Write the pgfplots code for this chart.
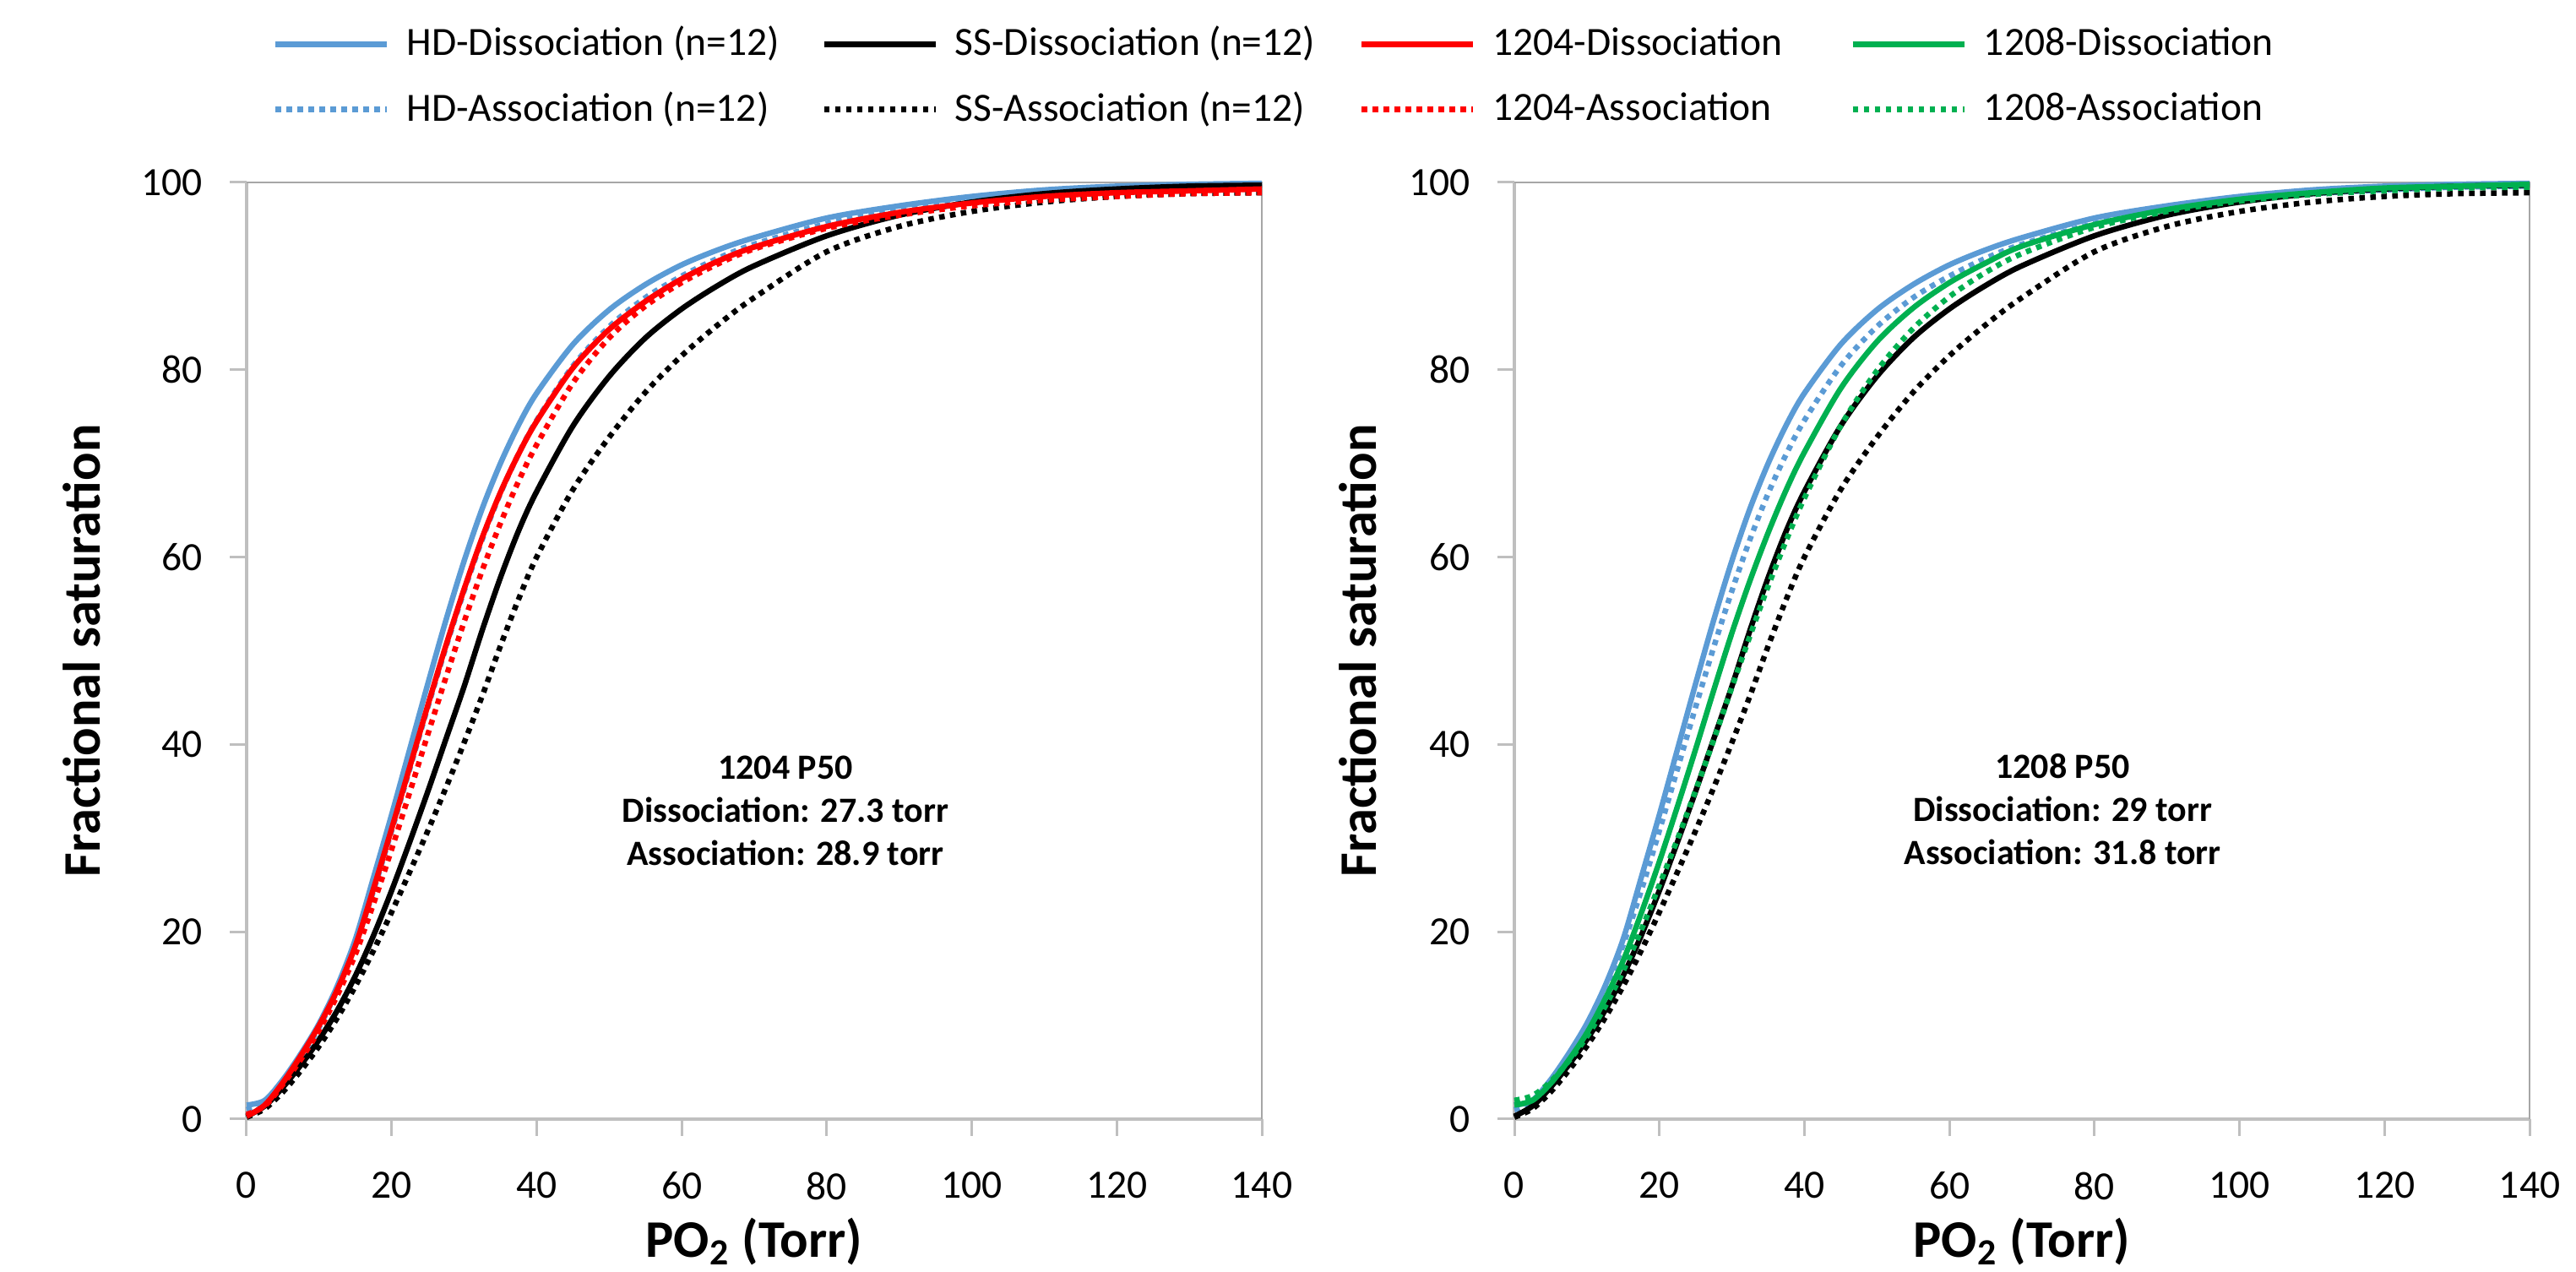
\documentclass[border=0pt]{standalone}
\usepackage{pgfplots}
\usepackage{pgfplotstable}
\pgfplotsset{compat=1.18}
\usepackage{fontspec}
\setmainfont{Carlito}
\definecolor{hdblue}{HTML}{5B9BD5}
\definecolor{rred}{HTML}{FF0000}
\definecolor{ggreen}{HTML}{00B050}
\definecolor{axgray}{HTML}{BFBFBF}
\definecolor{boxgray}{HTML}{A6A6A6}

% HD and SS reference curves (n=12)
\pgfplotstableread{
x    hdd   hda   ssd   ssa
0    1.5   1.0   0.3   0.2
2.5  2.0   1.8   1.4   1.1
5    4.2   4.0   3.4   2.9
7.5  7.0   6.7   5.8   5.2
10   10.2  9.8   8.5   7.8
12.5 14.2  13.8  11.6  10.8
15   19.2  18.6  15.3  14.2
17.5 25.8  24.4  19.6  18.0
20   32.5  30.8  24.4  22.1
22.5 39.5  37.4  29.6  26.4
25   46.5  44.0  35.0  30.8
27.5 53.3  50.4  40.6  35.4
30   59.6  56.4  46.2  40.2
32.5 65.2  61.9  52.2  45.2
35   70.0  66.8  57.8  50.5
37.5 74.1  71.0  62.8  55.5
40   77.5  74.6  67.0  60.0
45   82.7  80.4  74.0  67.2
50   86.4  84.6  79.3  72.8
55   89.1  87.7  83.4  77.6
60   91.2  90.0  86.5  81.5
65   92.8  91.9  89.0  84.8
70   94.1  93.4  91.1  87.7
80   96.2  95.6  94.3  92.6
90   97.5  97.1  96.5  95.3
100  98.5  98.1  97.9  96.9
110  99.2  98.8  98.8  97.9
120  99.6  99.2  99.3  98.5
130  99.8  99.5  99.6  98.8
140  99.9  99.6  99.7  98.9
}\refdata

% 1204
\pgfplotstableread{
x    d     a
0    0.3   0.5
2.5  1.5   1.4
5    3.9   3.7
7.5  6.8   6.4
10   10.0  9.5
12.5 13.8  13.2
15   18.5  17.6
17.5 24.6  23.0
20   31.0  28.8
22.5 37.6  34.9
25   44.2  41.1
27.5 50.6  47.2
30   56.6  53.1
32.5 62.1  58.6
35   66.9  63.6
37.5 71.0  68.1
40   74.5  72.0
45   80.2  78.6
50   84.3  83.4
55   87.3  86.8
60   89.7  89.3
65   91.6  91.3
70   93.1  92.9
80   95.3  95.1
90   96.8  96.5
100  97.8  97.5
110  98.5  98.1
120  98.9  98.5
130  99.1  98.8
140  99.3  98.9
}\dataA

% 1208
\pgfplotstableread{
x    d     a
0    1.5   2.0
2.5  2.0   2.5
5    3.8   4.0
7.5  6.3   6.2
10   9.2   8.8
12.5 12.8  12.0
15   16.9  15.8
17.5 22.0  20.2
20   27.5  25.0
22.5 33.4  29.9
25   39.5  35.1
27.5 45.8  40.5
30   51.9  46.1
32.5 57.5  51.6
35   62.6  56.9
37.5 67.2  61.8
40   71.2  66.3
45   78.0  74.0
50   83.0  79.9
55   86.6  84.4
60   89.3  87.8
65   91.4  90.4
70   93.2  92.4
80   95.5  95.2
90   97.1  96.9
100  98.2  98.0
110  98.9  98.7
120  99.4  99.1
130  99.6  99.4
140  99.8  99.5
}\dataB

\pgfplotsset{
  sol/.style={line width=1.3pt, solid},
  dot/.style={line width=1.3pt, dash pattern=on 1.3pt off 1.3pt},
  panel/.style={
    scale only axis, width=240.4pt, height=221.8pt,
    xmin=0, xmax=140, ymin=0, ymax=100,
    xtick={0,20,...,140}, ytick={0,20,...,100},
    axis x line*=bottom, axis y line*=left,
    axis line style={draw=axgray, line width=0.8pt, -},
    tick align=outside, major tick length=4pt,
    tick style={draw=axgray, line width=0.6pt},
    tick label style={font=\fontsize{9.5}{11}\selectfont},
    /pgf/number format/assume math mode=true,
    xticklabel style={yshift=-5pt},
    yticklabel style={xshift=-3pt},
    xlabel={\textbf{PO\textsubscript{2} (Torr)}},
    ylabel={\textbf{Fractional saturation}},
    label style={font=\fontsize{12.5}{14}\selectfont},
    xlabel style={at={([yshift=-32.8pt]axis description cs:0.5,0)}, anchor=base},
    clip=false,
  },
}

\begin{document}
\begin{tikzpicture}
\begin{axis}[panel,
  ylabel style={at={([xshift=-39pt]axis description cs:0,0.5)}, anchor=center},
  legend columns=4,
  legend cell align=left,
  legend image code/.code={\draw[#1] (0pt,0pt) -- (26.4pt,0pt); \path (30.4pt,0pt);},
  legend style={draw=none, fill=none, inner sep=0pt, row sep=7pt, column sep=0pt,
    nodes={inner sep=0pt},
    font=\fontsize{9.5}{11}\selectfont,
    at={([xshift=6pt,yshift=25pt]axis description cs:0,1)}, anchor=west},
]
\draw[boxgray, line width=0.5pt] (rel axis cs:0,1) -- (rel axis cs:1,1) -- (rel axis cs:1,0);
\addlegendimage{hdblue, sol}\addlegendentry{\makebox[98.2pt][l]{HD-Dissociation (n=12)}}
\addlegendimage{black, sol}\addlegendentry{\makebox[95.6pt][l]{SS-Dissociation (n=12)}}
\addlegendimage{rred, sol}\addlegendentry{\makebox[84.6pt][l]{1204-Dissociation}}
\addlegendimage{ggreen, sol}\addlegendentry{1208-Dissociation}
\addlegendimage{hdblue, dot}\addlegendentry{\makebox[98.2pt][l]{HD-Association (n=12)}}
\addlegendimage{black, dot}\addlegendentry{\makebox[95.6pt][l]{SS-Association (n=12)}}
\addlegendimage{rred, dot}\addlegendentry{\makebox[84.6pt][l]{1204-Association}}
\addlegendimage{ggreen, dot}\addlegendentry{1208-Association}

\addplot[hdblue, sol, smooth, forget plot] table[x=x, y=hdd] {\refdata};
\addplot[hdblue, dot, smooth, forget plot] table[x=x, y=hda] {\refdata};
\addplot[black, sol, smooth, forget plot] table[x=x, y=ssd] {\refdata};
\addplot[black, dot, smooth, forget plot] table[x=x, y=ssa] {\refdata};
\addplot[rred, sol, smooth, forget plot] table[x=x, y=d] {\dataA};
\addplot[rred, dot, smooth, forget plot] table[x=x, y=a] {\dataA};
\node[align=center, font=\bfseries\fontsize{8.4}{10.2}\selectfont] at (axis cs:74.3,32.9)
  {1204 P50\\Dissociation: 27.3 torr\\Association: 28.9 torr};
\end{axis}

\begin{axis}[panel, at={(300.2pt,0pt)},
  ylabel style={at={([xshift=-37pt]axis description cs:0,0.5)}, anchor=center},
]
\draw[boxgray, line width=0.5pt] (rel axis cs:0,1) -- (rel axis cs:1,1) -- (rel axis cs:1,0);
\addplot[hdblue, sol, smooth] table[x=x, y=hdd] {\refdata};
\addplot[hdblue, dot, smooth] table[x=x, y=hda] {\refdata};
\addplot[black, sol, smooth] table[x=x, y=ssd] {\refdata};
\addplot[black, dot, smooth] table[x=x, y=ssa] {\refdata};
\addplot[ggreen, sol, smooth] table[x=x, y=d] {\dataB};
\addplot[ggreen, dot, smooth] table[x=x, y=a] {\dataB};
\node[align=center, font=\bfseries\fontsize{8.4}{10.2}\selectfont] at (axis cs:75.6,33.1)
  {1208 P50\\Dissociation: 29 torr\\Association: 31.8 torr};
\end{axis}
\pgfresetboundingbox
\path[use as bounding box] (-58.4pt,-36.2pt) rectangle (551.6pt,265pt);
\end{tikzpicture}
\end{document}
